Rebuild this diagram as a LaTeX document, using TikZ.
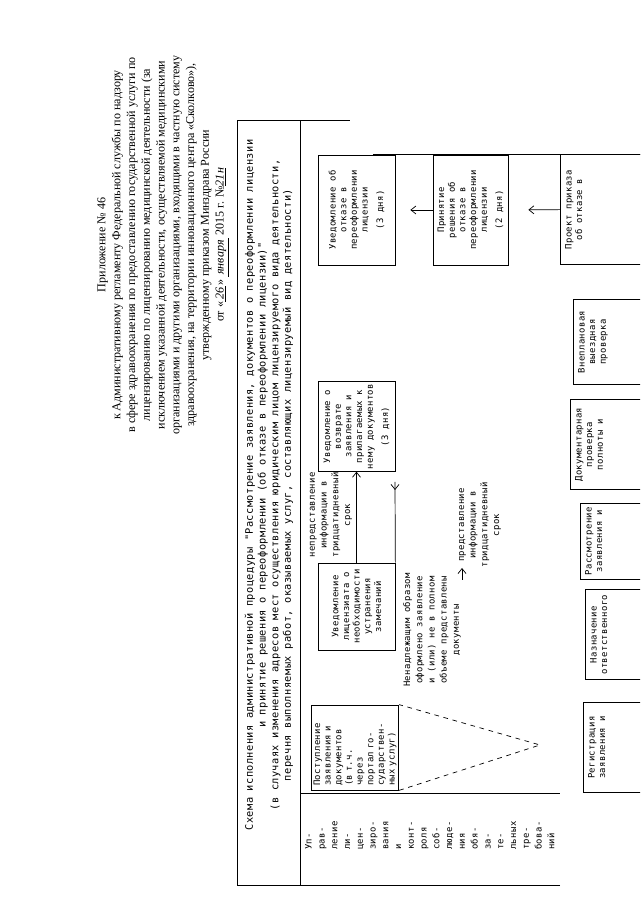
\documentclass[tikz,border=0pt]{standalone}
\usepackage{fontspec}
\setmainfont{Liberation Serif}
\newfontfamily\schemefont{DejaVu Sans Mono}[LetterSpace=4]
\usetikzlibrary{arrows.meta,calc}
\tikzset{
  stage/.style={draw,line width=0.6pt,inner sep=2pt,align=center,
    font=\schemefont\fontsize{7.6}{9.1}\selectfont},
  cutstage/.style={stage,anchor=north west,inner ysep=4pt,text depth=3cm},
  cond/.style={align=center,inner sep=0pt,
    font=\schemefont\fontsize{7.6}{10}\selectfont},
  flow/.style={line width=0.6pt,-{Straight Barb[length=1.5mm,width=2.4mm]}},
  cue/.style={line width=0.6pt,dash pattern=on 4pt off 4pt},
  rule/.style={line width=0.7pt}
}
\begin{document}
\begin{tikzpicture}[x=0.03cm,y=-0.03cm,rotate=90,transform shape]
  \useasboundingbox (0,0) rectangle (905,640);
  \clip (0,0) rectangle (905,640);
  \node[align=center,inner sep=0pt,font=\fontsize{10.3}{12.6}\selectfont] (appendix) at (660,163)
    {Приложение № 46\\
     к Административному регламенту Федеральной службы по надзору\\
     в сфере здравоохранения по предоставлению государственной услуги по\\
     лицензированию по лицензированию медицинской деятельности (за\\
     исключением указанной деятельности, осуществляемой медицинскими\\
     организациями и другими организациями, входящими в частную систему\\
     здравоохранения, на территории инновационного центра «Сколково»),\\
     утвержденному приказом Минздрава России\\
     от «\underline{\textit{\,26\,}}» \underline{\textit{\,января\,}} 2015 г. №\underline{\textit{21н}}};
  \draw[rule] (20,560) -- (20,237) -- (785,237) -- (785,350);
  \draw[rule] (20,300) -- (785,300);
  \draw[rule] (112,300) -- (112,560);
  \node[align=center,inner sep=0pt,font=\schemefont\fontsize{8.8}{10.8}\selectfont] (heading) at (420,269)
    {Схема исполнения административной процедуры "Рассмотрение заявления, документов о переоформлении лицензии\\
     и принятие решения о переоформлении (об отказе в переоформлении лицензии)"\\
     (в случаях изменения адресов мест осуществления юридическим лицом лицензируемого вида деятельности,\\
     перечня выполняемых работ, оказываемых услуг, составляющих лицензируемый вид деятельности)};
  \node[anchor=north west,align=left,inner sep=0pt,font=\schemefont\fontsize{7.6}{10.9}\selectfont] (lane) at (55,305)
    {Уп-\\рав-\\ление\\ли-\\цен-\\зиро-\\вания\\и\\конт-\\роля\\соб-\\люде-\\ния\\обя-\\за-\\те-\\льных\\тре-\\бова-\\ний};
  \node[stage,align=left,text width=2.3cm,minimum width=2.55cm,minimum height=2.58cm] (inbox) at (157.5,355)
    {Поступление\\заявления и\\документов\\(в т.ч.\\через\\портал го-\\сударствен-\\ных услуг)};
  \node[stage,minimum width=2.61cm,minimum height=2.31cm] (notefix) at (298.5,356.5)
    {Уведомление\\лицензиата о\\необходимости\\устранения\\замечаний};
  \node[stage,minimum width=2.61cm,minimum height=2.31cm] (notereturn) at (478.5,356.5)
    {Уведомление о\\возврате\\заявления и\\прилагаемых к\\нему документов\\[4pt](3 дня)};
  \node[stage,minimum width=3.3cm,minimum height=2.31cm] (noterefuse) at (695,356.5)
    {Уведомление об\\отказе в\\переоформлении\\лицензии\\[4pt](3 дня)};
  \node[stage,minimum width=3.3cm,minimum height=2.25cm] (decide) at (695,470.5)
    {Принятие\\решения об\\отказе в\\переоформлении\\лицензии\\[4pt](2 дня)};
  \node[cutstage,minimum width=3.3cm] (draft) at (640,560) {Проект приказа\\об отказе в};
  \node[cutstage,minimum width=2.55cm] (inspect) at (520,573) {Внеплановая\\выездная\\проверка};
  \node[cutstage,minimum width=2.7cm] (docheck) at (415,570) {Документарная\\проверка\\полноты и};
  \node[cutstage,minimum width=2.3cm] (review) at (325,580) {Рассмотрение\\заявления и};
  \node[cutstage,minimum width=2.7cm] (assign) at (225,585) {Назначение\\ответственного};
  \node[cutstage,minimum width=2.7cm] (register) at (112,583) {Регистрация\\заявления и};
  \node[cond] (nodata) at (390,331) {непредставление\\информации в\\тридцатидневный\\срок};
  \node[cond,font=\schemefont\fontsize{7.6}{10.4}\selectfont] (flawed) at (275,432)
    {Ненадлежащим образом\\оформлено заявление\\и (или) не в полном\\объеме представлены\\документы};
  \node[cond] (gotdata) at (380,480) {представление\\информации в\\тридцатидневный\\срок};
  \coordinate (vtip) at (160,540);
  \coordinate (fixtip) at (337,462);
  \coordinate (giveturn) at (423,395);
  \coordinate (refuseout) at (765,660);
  \draw[cue] (inbox.south west) -- (vtip) -- (inbox.south east);
  \draw[flow] (notefix) -- (notereturn);
  \draw[flow] (review.north west |- fixtip) -- (fixtip);
  \draw[flow] (notefix.south east) -- (giveturn) -- (docheck.north west |- giveturn);
  \draw[flow,shorten >=0.45cm] (decide.north) -- (noterefuse.south);
  \draw[flow,shorten >=0.6cm] (draft.north) -- (decide.south);
  \draw[rule] ($(noterefuse.north east)!0.71!(noterefuse.south east)$) |- (refuseout);
\end{tikzpicture}
\end{document}
